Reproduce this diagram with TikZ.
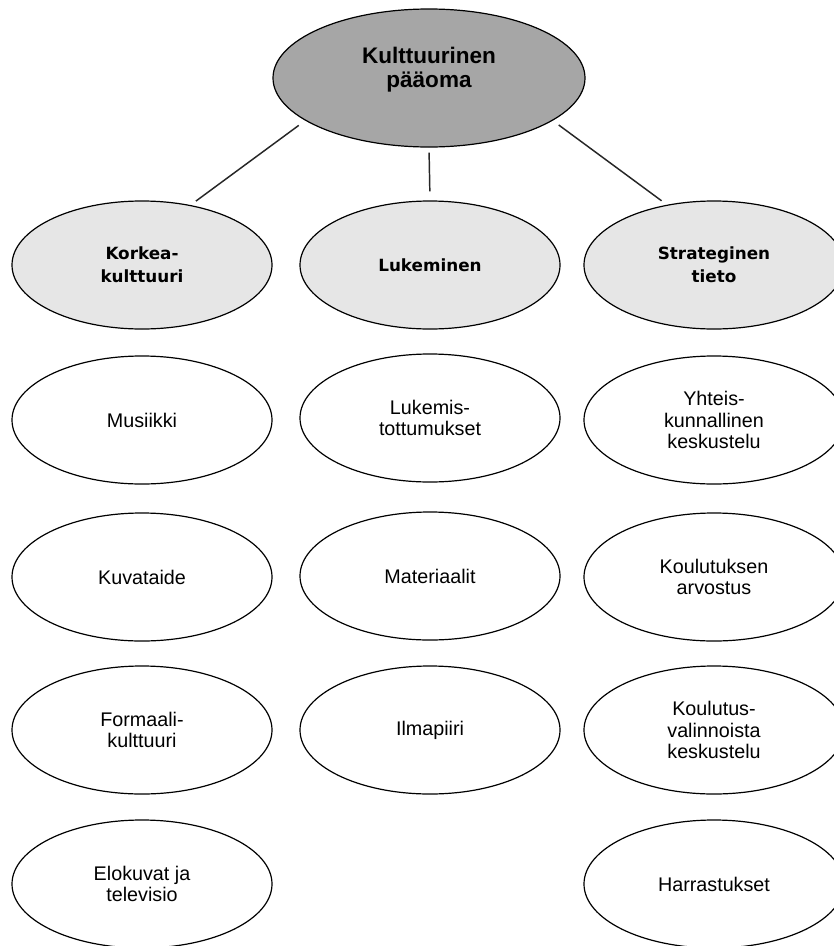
\documentclass[tikz,border=0pt]{standalone}
\usepackage{fontspec}
\setmainfont{Liberation Sans}
\newfontfamily\dvs{DejaVu Sans}
\usetikzlibrary{shapes.geometric}
\definecolor{topgray}{HTML}{A6A6A6}
\definecolor{catgray}{HTML}{E6E6E6}
\begin{document}
\begin{tikzpicture}[x=0.75pt,y=-0.75pt,
  oval/.style={ellipse, draw=black, line width=0.9pt, minimum width=195pt, minimum height=96pt, inner sep=0pt, align=center},
  topoval/.style={oval, fill=topgray, minimum width=234pt, minimum height=103.5pt},
  toptext/.style={font=\bfseries\fontsize{16.9}{18}\selectfont, align=center},
  catoval/.style={oval, fill=catgray, font=\dvs\bfseries\fontsize{12.6}{17.25}\selectfont},
  itemoval/.style={oval, fill=white, font=\fontsize{14.8}{16}\selectfont},
  conn/.style={draw=black!85, line width=1.1pt}]
\clip (0,0) rectangle (834,946);
\fill[white] (0,0) rectangle (834,946);

\node[topoval, label={[toptext, yshift=6.4pt]center:Kulttuurinen\\pääoma}] (top) at (429,78) {};

\node[catoval] (kk) at (142,265) {Korkea-\\kulttuuri};
\node[catoval] (lk) at (430,265) {Lukeminen};
\node[catoval] (st) at (714,265) {Strateginen\\tieto};

\node[itemoval] (mu) at (142,420) {Musiikki};
\node[itemoval] (lt) at (430,418) {Lukemis-\\tottumukset};
\node[itemoval] (yk) at (714,420) {Yhteis-\\kunnallinen\\keskustelu};

\node[itemoval] (kv) at (142,577) {Kuvataide};
\node[itemoval] (ma) at (430,576) {Materiaalit};
\node[itemoval] (ka) at (714,577) {Koulutuksen\\arvostus};

\node[itemoval] (fk) at (142,730) {Formaali-\\kulttuuri};
\node[itemoval] (il) at (430,730) {Ilmapiiri};
\node[itemoval] (kvk) at (714,730) {Koulutus-\\valinnoista\\keskustelu};

\node[itemoval] (et) at (142,884) {Elokuvat ja\\televisio};
\node[itemoval] (ha) at (714,884) {Harrastukset};

\draw[conn, shorten <=6pt, shorten >=5pt] (top.199) -- (kk.51);
\draw[conn, shorten <=3.75pt, shorten >=6.75pt] (top.south) -- (lk.north);
\draw[conn, shorten <=5.5pt, shorten >=5pt] (top.341) -- (st.128);
\end{tikzpicture}
\end{document}
